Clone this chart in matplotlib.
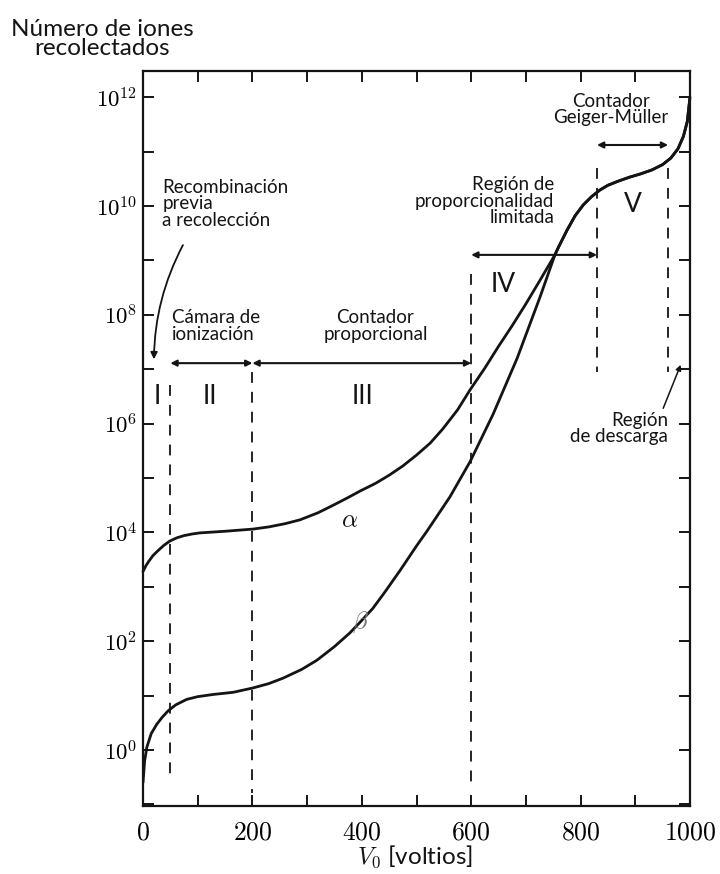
import numpy as np
import matplotlib
matplotlib.use("Agg")
import matplotlib.pyplot as plt
from matplotlib.ticker import FixedLocator, FixedFormatter, NullLocator

plt.rcParams['font.family'] = ['Lato', 'DejaVu Sans']
plt.rcParams['mathtext.fontset'] = 'cm'

# ---- data (V in volts, log10 of number of ions) ----
alpha_v = [0, 5, 10, 18, 26, 38, 49, 62, 75, 90, 104, 150, 201, 230, 260, 287, 320,
           348, 375, 397, 425, 450, 475, 500, 525, 548, 575, 598, 625, 650, 675, 700,
           725, 753, 760, 775, 790, 805, 820, 835, 850, 870, 890, 910, 930, 950, 965,
           978, 988, 995, 1000]
alpha_log = [3.28, 3.38, 3.46, 3.57, 3.65, 3.76, 3.84, 3.9, 3.94, 3.97, 3.99, 4.02, 4.06,
             4.1, 4.16, 4.23, 4.36, 4.5, 4.64, 4.76, 4.9, 5.05, 5.22, 5.42, 5.64, 5.9,
             6.25, 6.62, 7.02, 7.42, 7.8, 8.2, 8.62, 9.1, 9.25, 9.55, 9.82, 10.02, 10.17,
             10.29, 10.38, 10.46, 10.53, 10.59, 10.66, 10.76, 10.88, 11.05, 11.28, 11.55,
             12.0]
beta_v = [0, 3, 7, 15, 25, 35, 46, 60, 80, 100, 128, 165, 201, 230, 256, 290, 318, 350,
          378, 397, 420, 442, 470, 500, 519, 561, 598, 640, 684, 726, 753, 760, 775, 790,
          805, 820, 835, 850, 870, 890, 910, 930, 950, 965, 978, 988, 995, 1000]
beta_log = [-0.6, -0.2, 0.05, 0.3, 0.47, 0.6, 0.72, 0.83, 0.93, 0.98, 1.02, 1.06, 1.14,
            1.22, 1.32, 1.48, 1.65, 1.9, 2.15, 2.35, 2.6, 2.9, 3.3, 3.75, 4.02, 4.65, 5.3,
            6.17, 7.2, 8.33, 9.1, 9.25, 9.55, 9.82, 10.02, 10.17, 10.29, 10.38, 10.46,
            10.53, 10.59, 10.66, 10.76, 10.88, 11.05, 11.28, 11.55, 12.0]

x_major = [0, 200, 400, 600, 800, 1000]
x_labels = ['0', '200', '400', '600', '800', '1000']
y_exponents = list(range(-1, 13))
y_label_exps = [0, 2, 4, 6, 8, 10, 12]

roman = ['I', 'II', 'III', 'IV', 'V']
roman_v = [26, 122, 402, 658, 896]
roman_log = [6.49, 6.49, 6.49, 8.55, 10.02]

fig = plt.figure(figsize=(7.2, 8.74), dpi=100)
ax = fig.add_axes([143/720, 1-806/874, (690-143)/720, (806-71)/874])
ax.set_yscale('log')
ax.set_xlim(0, 1000)
ax.set_ylim(10**-1.03, 10**12.48)

ink = '#141414'
ax.plot(alpha_v, 10**np.array(alpha_log), color=ink, lw=2.0, solid_capstyle='round',
        solid_joinstyle='round', clip_on=False)
ax.plot(beta_v, 10**np.array(beta_log), color=ink, lw=2.0, solid_capstyle='round',
        solid_joinstyle='round')

# dashed region boundaries
dash_kw = dict(color=ink, lw=1.3, ls=(0, (6, 5)))
ax.plot([50, 50], [10**6.7, 10**-0.55], **dash_kw)
ax.plot([200, 200], [10**6.95, 10**-0.8], **dash_kw)
ax.plot([600, 600], [10**8.75, 10**-0.6], **dash_kw)
ax.plot([830, 830], [10**10.7, 10**6.95], **dash_kw)
ax.plot([960, 960], [10**10.7, 10**6.95], **dash_kw)

# double arrows
def darrow(x0, x1, ylog):
    ax.annotate('', xy=(x1, 10**ylog), xytext=(x0, 10**ylog),
                arrowprops=dict(arrowstyle='<|-|>', color=ink, lw=1.5,
                                mutation_scale=9, shrinkA=0, shrinkB=0))

darrow(50, 200, 7.11)
darrow(200, 600, 7.11)
darrow(600, 830, 9.1)
darrow(830, 960, 11.12)

fs = 13.5
ls = 0.98
ax.text(35, 10**10.5, 'Recombinación\nprevia\na recolección', fontsize=fs, ha='left', va='top',
        linespacing=ls, color=ink)
ax.annotate('', xy=(20, 10**7.18), xytext=(73, 10**9.28),
            arrowprops=dict(arrowstyle='-|>', color=ink, lw=1.3, mutation_scale=10,
                            shrinkA=0, shrinkB=0, connectionstyle='arc3,rad=0.12'))
ax.text(53, 10**8.1, 'Cámara de\nionización', fontsize=fs, ha='left', va='top',
        linespacing=ls, color=ink)
ax.text(425, 10**8.1, 'Contador\nproporcional', fontsize=fs, ha='center', va='top',
        linespacing=ls, color=ink)
ax.text(752, 10**10.55, 'Región de\nproporcionalidad\nlimitada', fontsize=fs, ha='right',
        va='top', linespacing=ls, color=ink)
ax.text(855, 10**12.08, 'Contador\nGeiger-Müller', fontsize=fs, ha='center', va='top',
        linespacing=ls, color=ink)
ax.text(960, 10**6.22, 'Región\nde descarga', fontsize=fs, ha='right', va='top',
        linespacing=ls, color=ink)
ax.annotate('', xy=(983, 10**7.08), xytext=(951, 10**6.28),
            arrowprops=dict(arrowstyle='-|>', color=ink, lw=1.1, mutation_scale=8,
                            shrinkA=0, shrinkB=0))

for r, xv, yl in zip(roman, roman_v, roman_log):
    ax.text(xv, 10**yl, r, fontsize=19, ha='center', va='center', color=ink)

ax.text(378, 10**4.23, r'$\alpha$', fontsize=18, ha='center', va='center', color=ink)
ax.text(397, 10**2.35, r'$\beta$', fontsize=18, ha='center', va='center', color='#777777')

# axes styling
for s in ax.spines.values():
    s.set_linewidth(1.6)
    s.set_color(ink)
ax.xaxis.set_major_locator(FixedLocator(x_major))
ax.xaxis.set_major_formatter(FixedFormatter([r'$%s$' % t for t in x_labels]))
ax.xaxis.set_minor_locator(FixedLocator([100, 300, 500, 700, 900]))
ax.yaxis.set_major_locator(FixedLocator([10.0**e for e in y_exponents]))
ax.yaxis.set_major_formatter(FixedFormatter(
    [(r'$10^{%d}$' % e) if e in y_label_exps else '' for e in y_exponents]))
ax.yaxis.set_minor_locator(NullLocator())
ax.tick_params(axis='both', which='both', direction='in', length=8, width=1.4,
               color=ink, top=True, right=True)
ax.tick_params(axis='x', which='major', labelsize=18.5, pad=10)
ax.tick_params(axis='y', which='major', labelsize=16.5, pad=4)

fig.text(415/720, 1 - 857/874, r'$V_0$ [voltios]', fontsize=17.5,
         ha='center', va='center', color=ink)
fig.text(102/720, 1 - 39/874, 'Número de iones\nrecolectados', fontsize=17.5,
         ha='center', va='center', linespacing=0.92, color=ink)

fig.savefig('out.png', dpi=100)
